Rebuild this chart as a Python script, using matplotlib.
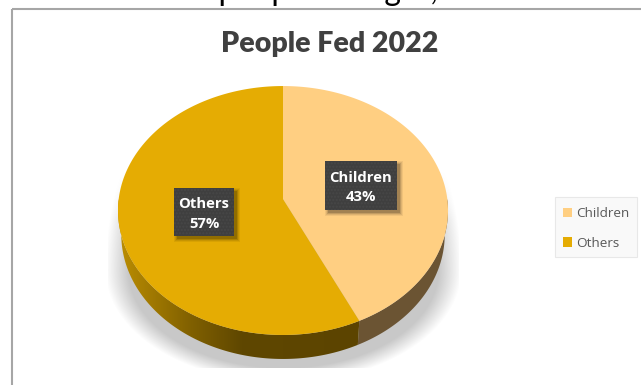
import matplotlib
matplotlib.use("Agg")
import matplotlib.pyplot as plt
import numpy as np
from matplotlib.colors import LinearSegmentedColormap
from matplotlib.patches import Patch, Polygon, Rectangle

title = "People Fed 2022"
categories = ["Children", "Others"]
percents = [43, 57]
face_colours = ["#FFCF82", "#E5AC03"]

# Tilted disc, in figure pixels
CX, APEX_Y = 283, 199
RX, RY, TILT = 164.3, 123.4, 0.0924
DEPTH = 24
FOOT_SCALE = 0.98


def rim(theta):
    """Point on the disc rim, theta measured clockwise from twelve o'clock."""
    den = 1 + TILT * np.cos(theta)
    return CX + RX * np.sin(theta) / den, APEX_Y - RY * np.cos(theta) / den


def wall_polygon(t0, t1):
    xs, ys = rim(np.linspace(t0, t1, 200))
    foot_x = CX + (xs - CX) * FOOT_SCALE
    return np.column_stack([np.r_[xs, foot_x[::-1]], np.r_[ys, ys[::-1] + DEPTH]])


fig = plt.figure(figsize=(6.41, 3.85), dpi=100)
ax = fig.add_axes([0, 0, 1, 1])
ax.axis("off")

# Soft floor shadow, faded towards the top and cut off square at its box
gx, gy = np.meshgrid(np.arange(108, 459), np.arange(150, 368))
ry_map = np.where(gy < 270, 240.0, 112.0)
dist = np.sqrt(((gx - CX) / 178.0) ** 2 + ((gy - 270) / ry_map) ** 2)
shadow = np.zeros(gx.shape + (4,))
shadow[..., :3] = 200 / 255
shadow[..., 3] = np.clip((1 - dist) / 0.13, 0, 1) * np.clip((gy - 170) / 50, 0, 1)
ax.imshow(shadow, extent=(108, 459, 368, 150), aspect="auto", zorder=1)

edges = np.cumsum([0] + percents) / sum(percents) * 2 * np.pi

# Side wall: flat brown under Children, shaded under Others
ax.add_patch(Polygon(wall_polygon(np.pi / 2, edges[1]), fc="#6B5433", ec="none", zorder=2))
wall = Polygon(wall_polygon(edges[1], 1.5 * np.pi), fc="none", ec="none", zorder=2)
ax.add_patch(wall)
wall_cmap = LinearSegmentedColormap.from_list(
    "wall", [(0, "#BC8E02"), (0.3, "#7F5F00"), (0.5, "#5F4700"), (1, "#5C4400")])
grad = ax.imshow(np.linspace(0, 1, 256).reshape(1, -1), cmap=wall_cmap,
                 extent=(118, 366, 365, 190), aspect="auto", zorder=2)
grad.set_clip_path(wall)

# Top face
for i, colour in enumerate(face_colours):
    xs, ys = rim(np.linspace(edges[i], edges[i + 1], 300))
    ax.fill(np.r_[CX, xs], np.r_[APEX_Y, ys], color=colour, lw=0, zorder=3)

# Data labels
label_boxes = [(325, 161, 72, 49), (174, 188, 60, 48)]
for name, pct, (x, y, w, h) in zip(categories, percents, label_boxes):
    for grow, alpha in [(3, 0.06), (2, 0.08), (1, 0.12), (0, 0.16)]:
        ax.add_patch(Rectangle((x + 3 - grow, y + 3 - grow), w + 2 * grow, h + 2 * grow,
                               fc="k", ec="none", alpha=alpha, zorder=4))
    ax.add_patch(Rectangle((x, y), w, h, fc="#3F3F3F", ec="#474747", lw=0,
                           hatch=".....", zorder=5))
    ax.text(x + w / 2, y + h / 2 + 2, f"{name}\n{pct}%", color="white", fontsize=10.7,
            fontweight="bold", family="Open Sans", ha="center", va="center",
            linespacing=1.5, zorder=6)

# Chart frame and the line of body text running above it
ax.add_patch(Rectangle((12, 9), 800, 600, fc="none", ec="#A6A6A6", lw=1.5, zorder=7))
ax.text(329.5, 52, title, color="#404040", fontsize=20.5, fontweight="heavy", family="Lato",
        ha="center", va="baseline", zorder=7)
ax.text(17, 0, "cost to assess people to eight,        in these", color="k", fontsize=23,
        family="Lato", ha="left", va="baseline", zorder=7)

# Legend, with its frame laid out separately from the entries
ax.add_patch(Rectangle((555, 197), 82, 60, fc="#F9F9F9", ec="#E8E8E8", lw=0.8, zorder=6))
handles = [Patch(fc=c, ec="none") for c in face_colours]
leg = ax.legend(handles, categories, loc="upper left", bbox_to_anchor=(563, 207),
                bbox_transform=ax.transData, frameon=False, labelcolor="#595959",
                prop={"family": "Open Sans", "size": 9.7}, handlelength=0.68, handleheight=0.68,
                handletextpad=0.3, labelspacing=1.25, borderpad=0, borderaxespad=0)
leg.set_zorder(7)

ax.set_xlim(0, 641)
ax.set_ylim(385, 0)
fig.savefig("out.png", dpi=100)
